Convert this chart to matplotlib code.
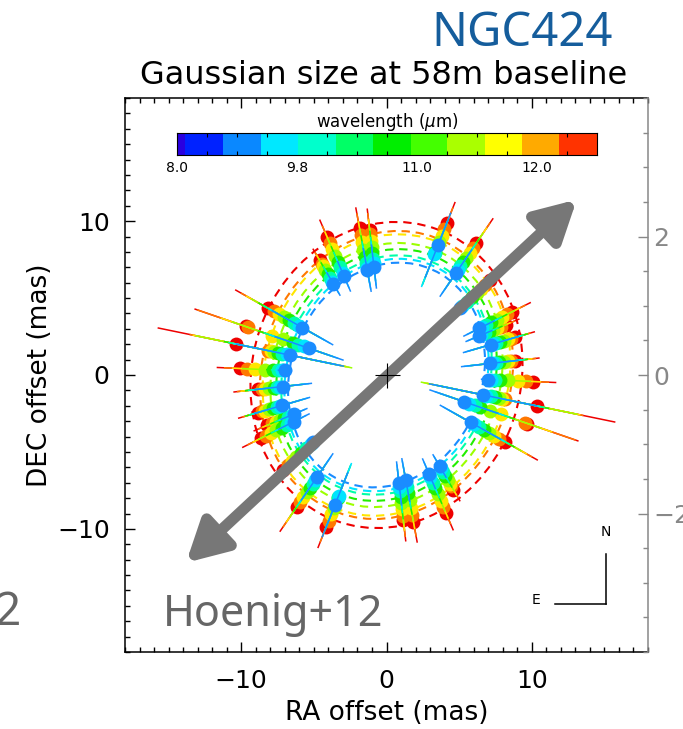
import numpy as np
import matplotlib
matplotlib.use('Agg')
import matplotlib.pyplot as plt
from matplotlib.patches import Ellipse, FancyArrowPatch
from matplotlib.ticker import MultipleLocator, FixedLocator

# colour per wavelength channel, blue (short) to red (long)
dot_colors = ['#1a8cff', '#00e4ff', '#00ffa8', '#22ee00', '#9cff00', '#ffe600', '#ff7800', '#ee0000']

# position angle of each baseline cluster (deg, from +x axis), the point-mirrored half is added at draw time
pa_deg = [101, 97, 114.5, 121.7, 152, 162, 169, 177.6, 186, 195.4, 201.7, 205.4, 220.8, 234.2, 247.2]
# gaussian size (mas) per cluster, one value per wavelength channel
size_mas = [
    [6.95, 7.1, 7.4, 7.8, 8.3, 8.8, 9.3, 9.7],
    [7.1, 7.3, 7.6, 8.0, 8.4, 8.8, 9.2, 9.5],
    [7.05, 7.3, 7.7, 8.1, 8.5, 9.0, 9.4, 9.85],
    [6.95, 7.1, 7.4, 7.7, 8.0, 8.3, 8.5, 8.75],
    [6.55, 6.8, 7.2, 7.6, 8.0, 8.4, 8.8, 9.25],
    [5.6, 6.0, 6.4, 6.8, 7.5, 8.3, 10.0, 10.2],
    [6.77, 7.0, 7.3, 7.6, 7.9, 8.1, 8.3, 10.55],
    [7.0, 7.2, 7.47, 7.8, 8.36, 9.05, 9.6, 10.1],
    [7.15, 7.35, 7.6, 7.8, 8.1, 8.4, 8.65, 8.9],
    [7.45, 7.6, 7.8, 8.1, 8.4, 8.7, 8.9, 9.2],
    [6.85, 7.0, 7.3, 7.6, 7.9, 8.2, 8.5, 8.85],
    [7.05, 7.3, 7.6, 8.0, 8.4, 8.8, 9.2, 9.6],
    [6.67, 6.9, 7.3, 7.8, 8.2, 8.6, 9.0, 9.4],
    [8.17, 8.4, 8.7, 9.05, 9.4, 9.8, 10.2, 10.56],
    [9.15, 8.5, 8.6, 8.7, 9.4, 9.8, 10.3, 10.7],
]
# error (mas) for the short and the long wavelength channels
err_short = [1.45, 1.45, 1.1, 0.9, 2.4, 2.5, 3.8, 0.5, 2.0, 2.0, 1.0, 1.2, 1.2, 1.9, 2.3]
err_long = [1.4, 1.4, 1.25, 0.9, 2.55, 3.7, 5.5, 1.6, 1.7, 1.4, 1.0, 1.4, 1.2, 2.0, 1.5]

# fitted ellipse per wavelength channel
ell_a = [7.55, 7.8, 8.0, 8.4, 8.8, 9.35, 9.55, 10.1]
ell_b = [6.5, 6.75, 7.0, 7.35, 7.75, 8.3, 8.5, 9.2]
ell_pa = [60, 60, 61, 62, 62, 63, 64, 65]

# colour bar
cbar_colors = ['#2a00e0', '#0022ff', '#0a88ff', '#00e8ff', '#00ffcc', '#00ff66',
               '#00ee00', '#44ff00', '#aaff00', '#ffff00', '#ffaa00', '#ff3300']
cbar_edges = [0, 0.27, 1.53, 2.8, 4.03, 5.3, 6.53, 7.8, 9.0, 10.27, 11.5, 12.73, 14]
cbar_labels = ['8.0', '9.8', '11.0', '12.0']
cbar_label_pos = [0, 4, 8, 12]

# right axis ticks
right_ticks = [-2, 0, 2]

# PA arrow (mas)
arrow_start = (-13.8, -12.2)
arrow_end = (13.1, 11.4)

W, H = 683, 729
fig = plt.figure(figsize=(W / 100, H / 100), dpi=100)
ax = fig.add_axes([125 / W, 77 / H, 523 / W, 554 / H])
ax.set_xlim(-18, 18)
ax.set_ylim(-18, 18)

for k in range(len(dot_colors)):
    e = Ellipse((0, 0), 2 * ell_a[k], 2 * ell_b[k], angle=ell_pa[k], fill=False,
                ec=dot_colors[k], lw=1.5, ls=(0, (4, 2.8)), zorder=1)
    ax.add_patch(e)

# red channel first, blue on top
for k in range(len(dot_colors) - 1, -1, -1):
    for side in (0, 180):
        for i, pa in enumerate(pa_deg):
            t = np.radians(pa + side)
            r = size_mas[i][k]
            er = err_short[i] if k < 4 else err_long[i]
            ax.plot([(r - er) * np.cos(t), (r + er) * np.cos(t)],
                    [(r - er) * np.sin(t), (r + er) * np.sin(t)],
                    color=dot_colors[k], lw=1.1, zorder=2, solid_capstyle='butt')
            ax.plot(r * np.cos(t), r * np.sin(t), 'o', ms=10, color=dot_colors[k],
                    mec='none', zorder=2)

arr = FancyArrowPatch(arrow_start, arrow_end, arrowstyle='<|-|>,head_length=2.4,head_width=1.3',
                      mutation_scale=10, lw=8, color='#777777', shrinkA=0, shrinkB=0, zorder=5)
ax.add_patch(arr)
ax.plot(0, 0, '+', ms=18, mew=0.8, color='k', zorder=6)

ax.xaxis.set_major_locator(MultipleLocator(10))
ax.xaxis.set_minor_locator(MultipleLocator(1))
ax.yaxis.set_major_locator(MultipleLocator(10))
ax.yaxis.set_minor_locator(MultipleLocator(1))
ax.tick_params(which='both', direction='in', top=True, right=False, labelsize=18, width=1)
ax.tick_params(which='major', length=7)
ax.tick_params(which='minor', length=3.5)
ax.tick_params(axis='x', pad=12)
ax.tick_params(axis='y', pad=11)
for s in ax.spines.values():
    s.set_linewidth(1.1)
ax.spines['right'].set_visible(False)

ax2 = ax.twinx()
ax2.set_ylim(-4, 4)
ax2.yaxis.set_major_locator(FixedLocator(right_ticks))
ax2.yaxis.set_minor_locator(MultipleLocator(0.5))
ax2.tick_params(which='both', direction='in', colors='#888888', labelsize=18, width=1, pad=4)
ax2.tick_params(which='major', length=7)
ax2.tick_params(which='minor', length=3.5)
for name, s in ax2.spines.items():
    s.set_visible(name == 'right')
ax2.spines['right'].set_color('#888888')
ax2.spines['right'].set_linewidth(1.1)

# colour bar
cax = fig.add_axes([177 / W, (H - 155) / H, 420 / W, 22 / H])
for k, c in enumerate(cbar_colors):
    cax.axvspan(cbar_edges[k], cbar_edges[k + 1], color=c, lw=0)
cax.set_xlim(0, 14)
cax.set_ylim(0, 1)
cax.set_yticks([])
cax.set_xticks(range(1, 14), minor=True)
cax.set_xticks(cbar_label_pos)
cax.set_xticklabels(cbar_labels, fontsize=10)
cax.tick_params(which='both', direction='in', top=True, length=3, width=0.8, pad=4)
cax.tick_params(which='major', length=0)
cax.set_title(r'wavelength ($\mu$m)', fontsize=12, pad=3)

fig.text(522 / W, 1 - 34 / H, 'NGC424', fontsize=34, color='#155d9c', ha='center', va='center',
         family='Noto Sans')
fig.text(384 / W, 1 - 76 / H, 'Gaussian size at 58m baseline', fontsize=23, ha='center', va='center')
fig.text(387 / W, 1 - 713 / H, 'RA offset (mas)', fontsize=19, ha='center', va='center')
fig.text(40 / W, 1 - 375 / H, 'DEC offset (mas)', fontsize=19, ha='center', va='center', rotation=90)
fig.text(273 / W, 1 - 615 / H, 'Hoenig+12', fontsize=31, color='#666666', ha='center', va='center',
         family='Noto Sans')
fig.text(8 / W, 1 - 613 / H, '2', fontsize=33, color='#666666', ha='center', va='center',
         family='Noto Sans')

# N/E compass
ax.plot([15.1, 15.1], [-11.6, -14.9], color='k', lw=1.1)
ax.plot([11.6, 15.1], [-14.9, -14.9], color='k', lw=1.1)
ax.text(15.1, -10.2, 'N', fontsize=10, ha='center', va='center')
ax.text(10.3, -14.6, 'E', fontsize=10, ha='center', va='center')

fig.savefig('out.png', dpi=100)
